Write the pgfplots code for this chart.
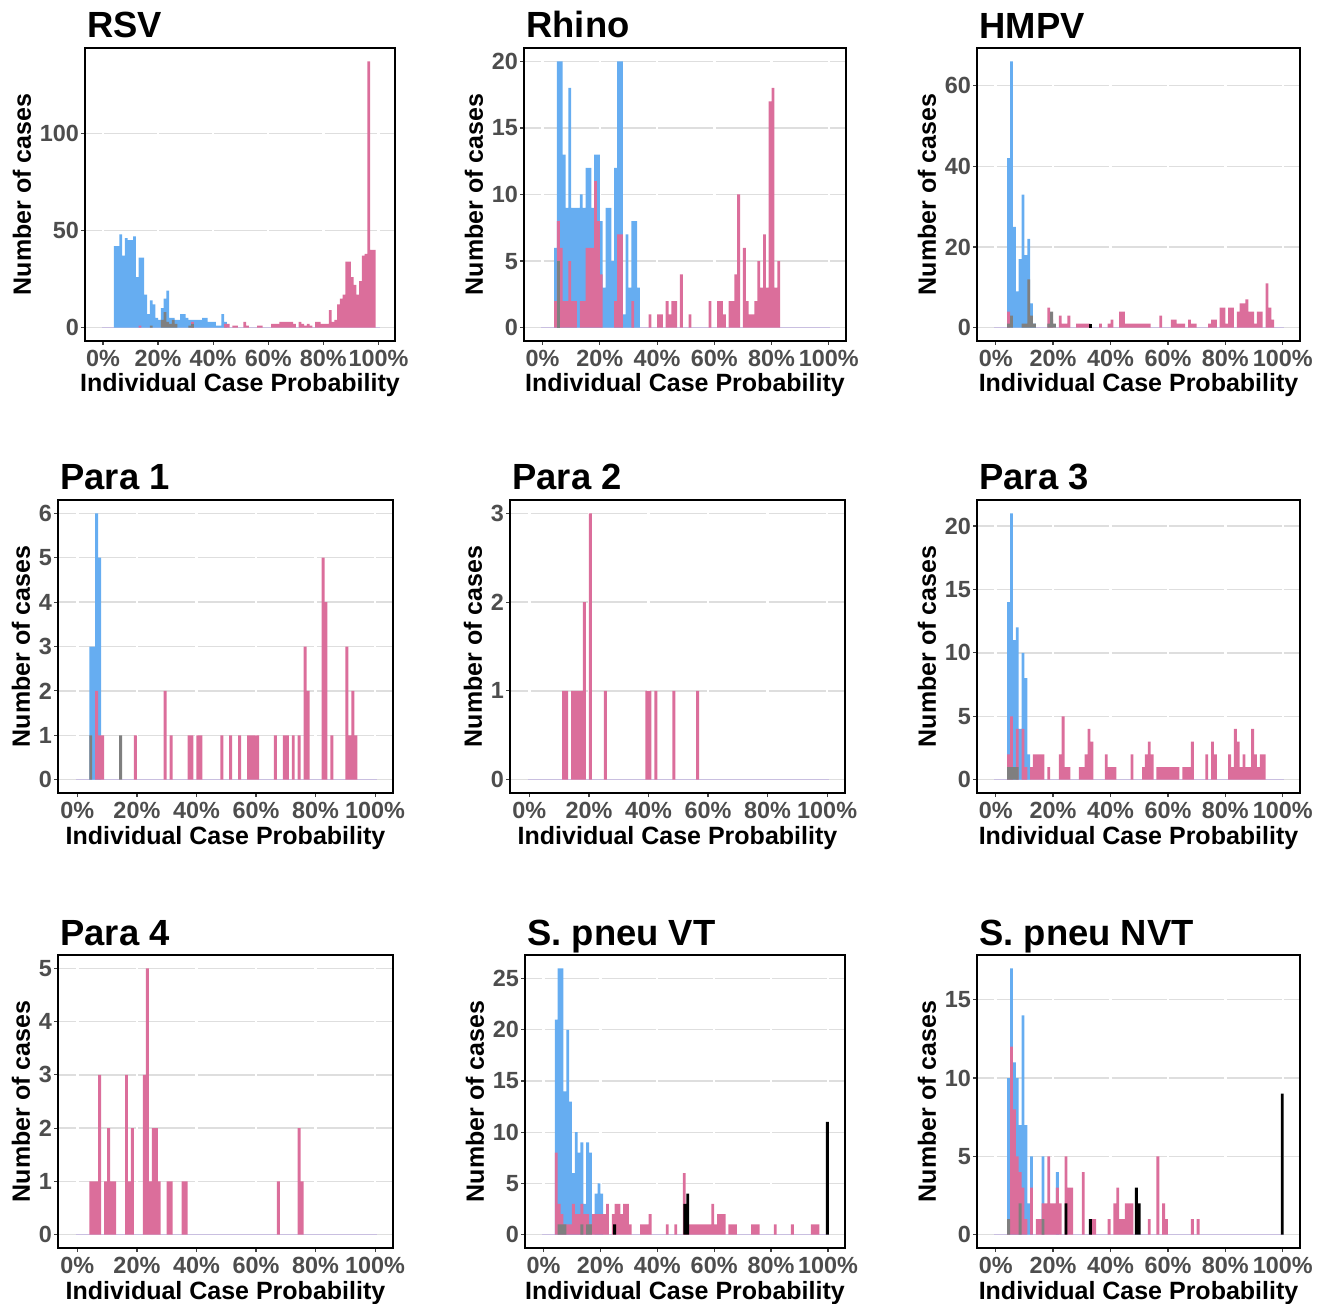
\documentclass[border=0pt]{standalone}
\usepackage{pgfplots}
\pgfplotsset{compat=1.18}
\usepackage{fontspec}
\setmainfont{Liberation Sans}
\definecolor{cblue}{HTML}{66ADF1}
\definecolor{cpink}{HTML}{DB6E9B}
\definecolor{cgray}{HTML}{7F7F7F}
\definecolor{tickgray}{HTML}{4D4D4D}
\definecolor{gridgray}{HTML}{DEDEDE}
\definecolor{lav}{HTML}{C9BFE0}
\pgfplotsset{
  hist/.style={
    scale only axis, height=146.5pt,
    xmin=-6.5, xmax=106,
    axis line style={black, line width=0.8pt},
    tick align=outside, major tick length=2pt, tick pos=left,
    tick style={black!75, line width=0.6pt},
    xtick={0,20,40,60,80,100},
    xticklabels={0\%,20\%,40\%,60\%,80\%,100\%},
    ymajorgrids,
    ticklabel style={font=\bfseries\fontsize{11.7}{13}\selectfont, text=tickgray},
    yticklabel style={xshift=2.5pt},
    xticklabel style={yshift=1pt},
    /pgf/number format/assume math mode=true,
    xlabel={Individual Case Probability},
    ylabel={Number of cases},
    label style={font=\bfseries\fontsize{12.5}{14}\selectfont},
    xlabel style={at={(axis description cs:0.5,0)}, anchor=base, yshift=-25.5pt, inner sep=0pt},
    ylabel style={yshift=-2.5pt},
    title style={at={(axis description cs:0,1)}, anchor=base west, yshift=-1pt, xshift=1pt, inner sep=0pt, font=\bfseries\fontsize{18.2}{20}\selectfont},
    axis on top=false, anchor=south west,
  },
  G/.style 2 args={grid style={gridgray, line width=0.7pt, dash pattern=on #1pt off 1.2pt, dash phase=#2pt}},
  B/.style={ybar, bar width=1, bar shift=0pt, draw=none, fill=#1},
}
\newcommand{\base}{%
  \addplot[lav, line width=0.6pt, sharp plot] coordinates {(-0.5,0) (100.5,0)};%
}
\begin{document}
\begin{tikzpicture}
\path[use as bounding box] (0,0) rectangle (663.5pt,651.5pt);
% ---------------- RSV
\begin{axis}[hist, G={26.356}{18.0}, at={(42.5pt,481pt)}, width=155pt, ymin=-6.85, ymax=143.85, ytick={0,50,100}, title={RSV}]
\base
\addplot[B=cblue] coordinates {(4.5,42)(5.5,42)(6.5,48)(7.5,37)(8.5,46)(9.5,45)(10.5,45)(11.5,47)(12.5,26)(13.5,36)(14.5,36)(15.5,17)(16.5,7)(17.5,14)(18.5,12)(19.5,5)(20.5,4)(21.5,10)(22.5,15)(23.5,19)(24.5,5)(25.5,5)(26.5,4)(27.5,4)(28.5,7)(29.5,7)(30.5,5)(31.5,4)(32.5,4)(33.5,4)(34.5,4)(35.5,4)(36.5,5)(37.5,5)(38.5,3)(39.5,3)(40.5,3)(41.5,1)(42.5,1)(43.5,7)(44.5,3)};
\addplot[B=cpink] coordinates {(13.5,1)(32.5,3)(44.5,2)(45.5,2)(47.5,1)(48.5,1)(51.5,3)(52.5,1)(56.5,1)(57.5,1)(61.5,2)(62.5,2)(63.5,2)(64.5,3)(65.5,3)(66.5,3)(67.5,3)(68.5,3)(69.5,2)(71.5,3)(72.5,2)(73.5,1)(74.5,2)(75.5,1)(77.5,3)(78.5,3)(79.5,2)(80.5,2)(81.5,2)(82.5,9)(83.5,3)(84.5,4)(85.5,12)(86.5,15)(87.5,17)(88.5,34)(89.5,34)(90.5,26)(91.5,22)(92.5,17)(93.5,24)(94.5,37)(95.5,38)(96.5,137)(97.5,40)(98.5,40)};
\addplot[B=cgray] coordinates {(17.5,1)(21.5,4)(22.5,8)(23.5,3)(24.5,2)(25.5,4)(26.5,2)(31.5,1)(32.5,2)};
\end{axis}
% ---------------- Rhino
\begin{axis}[hist, G={27.422}{18.72}, at={(262pt,481pt)}, width=161pt, ymin=-1, ymax=21, ytick={0,5,10,15,20}, title={Rhino}]
\base
\addplot[B=cblue] coordinates {(4.5,6)(5.5,20)(6.5,20)(7.5,13)(8.5,9)(9.5,18)(10.5,9)(11.5,9)(12.5,9)(13.5,10)(14.5,9)(15.5,12)(16.5,12)(17.5,9)(18.5,13)(19.5,13)(20.5,8)(21.5,3)(22.5,9)(23.5,9)(24.5,5)(25.5,12)(26.5,20)(27.5,20)(28.5,1)(29.5,7)(30.5,3)(31.5,8)(32.5,8)(33.5,3)};
\addplot[B=cpink] coordinates {(4.5,2)(5.5,8)(6.5,6)(7.5,2)(8.5,2)(9.5,5)(10.5,2)(11.5,2)(13.5,2)(14.5,2)(15.5,6)(16.5,6)(17.5,6)(18.5,11)(19.5,8)(20.5,4)(25.5,2)(26.5,7)(27.5,7)(31.5,2)(37.5,1)(40.5,1)(41.5,1)(43.5,2)(44.5,1)(45.5,2)(46.5,2)(48.5,4)(51.5,1)(58.5,2)(61.5,2)(62.5,2)(63.5,1)(65.5,2)(66.5,2)(67.5,4)(68.5,10)(70.5,6)(71.5,2)(72.5,1)(73.5,1)(74.5,2)(75.5,5)(76.5,3)(77.5,7)(78.5,3)(79.5,17)(80.5,18)(81.5,3)(82.5,5)};
\addplot[B=cgray] coordinates {(5.5,5)};
\end{axis}
% ---------------- HMPV
\begin{axis}[hist, G={27.511}{18.78}, at={(488.5pt,481pt)}, width=161.5pt, ymin=-3.3, ymax=69.3, ytick={0,20,40,60}, title={HMPV}]
\base
\addplot[B=cblue] coordinates {(4.5,42)(5.5,66)(6.5,25)(7.5,9)(8.5,17)(9.5,33)(10.5,18)(11.5,22)(12.5,6)(13.5,1)};
\addplot[B=cpink] coordinates {(4.5,4)(18.5,5)(19.5,2)(22.5,3)(23.5,1)(24.5,1)(25.5,3)(28.5,1)(29.5,1)(30.5,1)(31.5,1)(32.5,1)(36.5,1)(39.5,1)(40.5,2)(43.5,4)(44.5,4)(45.5,1)(46.5,1)(47.5,1)(48.5,1)(49.5,1)(50.5,1)(51.5,1)(52.5,1)(53.5,1)(57.5,3)(61.5,2)(62.5,2)(63.5,1)(64.5,1)(65.5,1)(67.5,2)(68.5,1)(69.5,1)(74.5,1)(75.5,2)(76.5,2)(78.5,5)(79.5,5)(80.5,1)(81.5,5)(82.5,5)(84.5,4)(85.5,6)(86.5,6)(87.5,7)(88.5,4)(89.5,4)(90.5,1)(91.5,4)(92.5,4)(94.5,11)(95.5,5)(96.5,2)};
\addplot[B=cgray] coordinates {(4.5,1)(5.5,3)(9.5,1)(10.5,1)(11.5,12)(12.5,3)(13.5,1)(18.5,1)(19.5,4)(20.5,1)};
\addplot[B=black] coordinates {(33,1)};
\end{axis}
% ---------------- Para 1
\begin{axis}[hist, G={28.578}{19.5}, at={(29pt,255pt)}, width=167.5pt, ymin=-0.3, ymax=6.3, ytick={0,1,2,3,4,5,6}, title={Para 1}]
\base
\addplot[B=cblue] coordinates {(4.5,3)(5.5,3)(6.5,6)(7.5,5)};
\addplot[B=cpink] coordinates {(6.5,2)(7.5,1)(8.5,1)(19.5,1)(29.5,2)(31.5,1)(37.5,1)(38.5,1)(40.5,1)(41.5,1)(48.5,1)(51.5,1)(54.5,1)(57.5,1)(58.5,1)(59.5,1)(60.5,1)(66.5,1)(69.5,1)(70.5,1)(72.5,1)(74.5,1)(76.5,3)(77.5,2)(82.5,5)(83.5,4)(85.5,1)(90.5,3)(91.5,1)(92.5,2)(93.5,1)};
\addplot[B=cgray] coordinates {(4.5,1)(14.5,1)};
\end{axis}
% ---------------- Para 2
\begin{axis}[hist, G={28.578}{19.5}, at={(255pt,255pt)}, width=167.5pt, ymin=-0.15, ymax=3.15, ytick={0,1,2,3}, title={Para 2}]
\base
\addplot[B=cpink] coordinates {(11.5,1)(12.5,1)(14.5,1)(15.5,1)(16.5,1)(17.5,1)(18.5,2)(20.5,3)(25.5,1)(39.5,1)(40.5,1)(42.5,1)(48.5,1)(56.5,1)};
\end{axis}
% ---------------- Para 3
\begin{axis}[hist, G={27.511}{18.78}, at={(488.5pt,255pt)}, width=161.5pt, ymin=-1.05, ymax=22.05, ytick={0,5,10,15,20}, title={Para 3}]
\base
\addplot[B=cblue] coordinates {(4.5,14)(5.5,21)(6.5,11)(7.5,12)(8.5,4)(9.5,10)(10.5,8)(11.5,2)};
\addplot[B=cpink] coordinates {(4.5,2)(5.5,5)(7.5,4)(9.5,4)(10.5,1)(12.5,1)(13.5,2)(14.5,2)(15.5,2)(16.5,2)(18.5,1)(22.5,2)(23.5,5)(24.5,1)(25.5,1)(29.5,1)(30.5,1)(31.5,2)(32.5,4)(33.5,3)(38.5,2)(39.5,1)(40.5,1)(41.5,1)(47.5,2)(51.5,1)(52.5,2)(53.5,3)(54.5,2)(56.5,1)(57.5,1)(58.5,1)(59.5,1)(60.5,1)(61.5,1)(62.5,1)(63.5,1)(65.5,1)(66.5,1)(67.5,1)(68.5,3)(73.5,2)(75.5,3)(76.5,2)(81.5,2)(82.5,1)(83.5,4)(84.5,3)(85.5,1)(86.5,2)(87.5,1)(88.5,1)(89.5,4)(90.5,2)(91.5,1)(92.5,2)(93.5,2)};
\addplot[B=cgray] coordinates {(4.5,1)(5.5,1)(6.5,1)(7.5,1)};
\end{axis}
% ---------------- Para 4
\begin{axis}[hist, G={28.578}{19.5}, at={(29pt,27.5pt)}, width=167.5pt, ymin=-0.25, ymax=5.25, ytick={0,1,2,3,4,5}, title={Para 4}]
\base
\addplot[B=cpink] coordinates {(4.5,1)(5.5,1)(6.5,1)(7.5,3)(9.5,1)(10.5,2)(11.5,1)(12.5,1)(16.5,3)(17.5,1)(18.5,2)(22.5,3)(23.5,5)(24.5,1)(25.5,2)(26.5,2)(27.5,1)(30.5,1)(31.5,1)(35.5,1)(36.5,1)(67.5,1)(74.5,2)(75.5,1)};
\end{axis}
% ---------------- S. pneu VT
\begin{axis}[hist, G={27.244}{18.6}, at={(262.5pt,27.5pt)}, width=160pt, ymin=-1.3, ymax=27.3, ytick={0,5,10,15,20,25}, title={S. pneu VT}]
\base
\addplot[B=cblue] coordinates {(4.5,21)(5.5,26)(6.5,26)(7.5,14)(8.5,20)(9.5,13)(10.5,6)(11.5,10)(12.5,8)(13.5,9)(14.5,3)(15.5,9)(16.5,8)(18.5,4)(19.5,5)(20.5,4)};
\addplot[B=cpink] coordinates {(4.5,8)(5.5,3)(6.5,2)(7.5,1)(8.5,1)(9.5,1)(10.5,3)(11.5,2)(12.5,2)(13.5,3)(14.5,2)(15.5,2)(16.5,1)(17.5,2)(18.5,2)(19.5,2)(20.5,2)(21.5,2)(22.5,3)(24.5,2)(25.5,3)(26.5,3)(27.5,2)(28.5,3)(29.5,3)(30.5,1)(34.5,1)(35.5,1)(36.5,1)(37.5,2)(43.5,1)(46.5,1)(49.5,6)(50.5,1)(51.5,1)(52.5,1)(53.5,1)(54.5,1)(55.5,1)(56.5,1)(57.5,1)(58.5,1)(59.5,3)(60.5,1)(61.5,2)(62.5,2)(63.5,2)(65.5,1)(66.5,1)(67.5,1)(73.5,1)(74.5,1)(75.5,1)(81.5,1)(87.5,1)(94.5,1)(95.5,1)(96.5,1)};
\addplot[B=cgray] coordinates {(5.5,1)(6.5,1)(7.5,1)(13.5,1)(15.5,1)(16.5,1)};
\addplot[B=black] coordinates {(25,1)(49.7,3)(50.7,4)(99.8,11)};
\end{axis}
% ---------------- S. pneu NVT
\begin{axis}[hist, G={27.511}{18.78}, at={(488.5pt,27.5pt)}, width=161.5pt, ymin=-0.85, ymax=17.85, ytick={0,5,10,15}, title={S. pneu NVT}]
\base
\addplot[B=cblue] coordinates {(4.5,10)(5.5,17)(6.5,11)(7.5,10)(8.5,7)(9.5,14)(10.5,7)(11.5,2)(12.5,5)(16.5,5)(21.5,4)};
\addplot[B=cpink] coordinates {(4.5,1)(5.5,12)(6.5,8)(7.5,5)(8.5,4)(9.5,3)(10.5,1)(12.5,3)(14.5,1)(15.5,1)(16.5,2)(17.5,2)(18.5,5)(19.5,2)(20.5,2)(21.5,3)(22.5,2)(24.5,5)(25.5,3)(26.5,3)(30.5,4)(33.5,1)(34.5,1)(39.5,1)(41.5,2)(42.5,3)(43.5,1)(44.5,1)(45.5,2)(46.5,2)(47.5,2)(53.5,1)(56.5,5)(58.5,2)(59.5,1)(68.5,1)(70.5,1)};
\addplot[B=cgray] coordinates {(4.5,1)(8.5,2)(16.5,1)};
\addplot[B=black] coordinates {(24.5,2)(33,1)(49,3)(50,2)(99.8,9)};
\end{axis}
\end{tikzpicture}
\end{document}
